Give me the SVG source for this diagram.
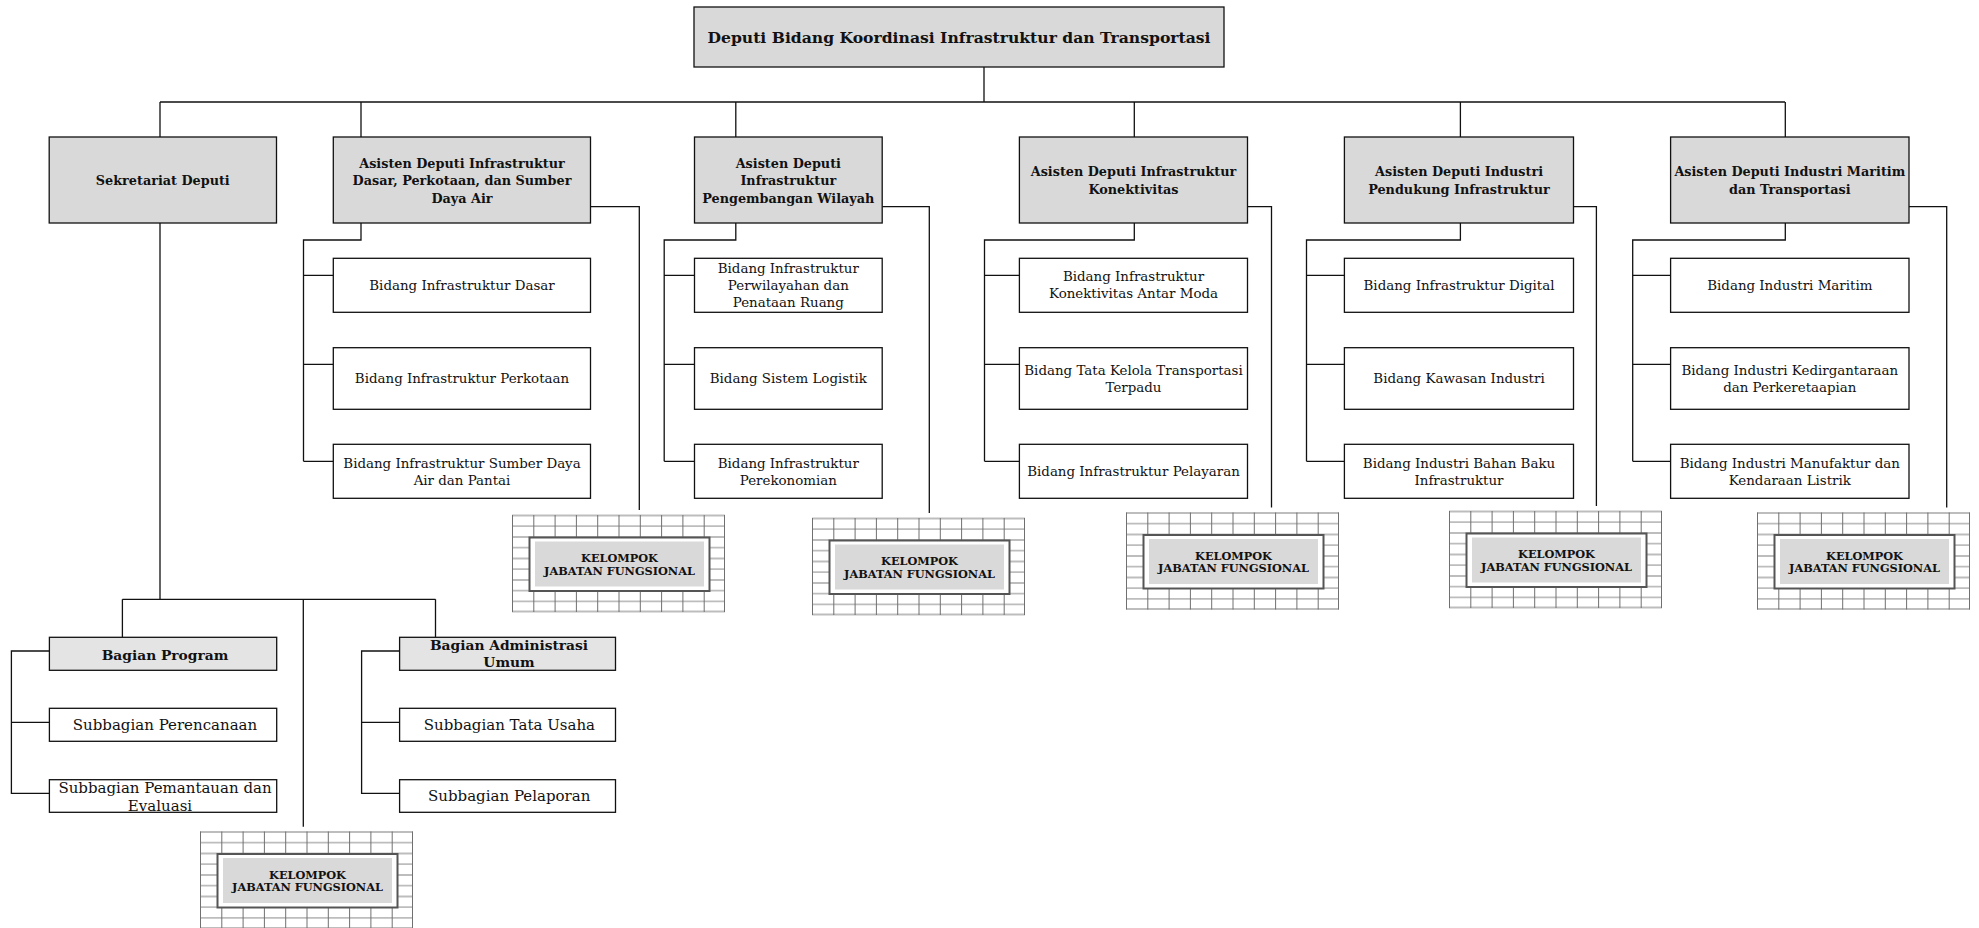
<svg xmlns="http://www.w3.org/2000/svg" xmlns:xlink="http://www.w3.org/1999/xlink" width="1979" height="928" viewBox="0 0 1979 928">
<style>
.hdr{fill:#d9d9d9;stroke:#111;stroke-width:1.3}
.bag{fill:#e4e4e4;stroke:#111;stroke-width:1.3}
.box{fill:#fff;stroke:#111;stroke-width:1.3}
.ln{fill:none;stroke:#111;stroke-width:1.3}
text{fill:#111;text-anchor:middle}
.t{font-family:"DejaVu Serif",serif;font-weight:bold;font-size:15.6px}
.h{font-family:"DejaVu Serif",serif;font-weight:bold;font-size:12.8px}
.r{font-family:"DejaVu Serif",serif;font-size:13.4px}
.b{font-family:"DejaVu Serif",serif;font-weight:bold;font-size:13.8px}
.s{font-family:"DejaVu Serif",serif;font-size:15px}
.k{font-family:"DejaVu Serif",serif;font-weight:bold;font-size:11.3px}
.gv{stroke:#707070;stroke-width:1}
.gh{stroke:#bdbdbd;stroke-width:1.8}
.kin{fill:#fff;stroke:#555;stroke-width:2}
.kg{fill:#d9d9d9}
</style>
<defs>
<g id="kjf">
<g class="gh">
<line x1="0" y1="0.5" x2="213" y2="0.5"/>
<line x1="0" y1="11.2" x2="213" y2="11.2"/>
<line x1="0" y1="22" x2="213" y2="22"/>
<line x1="0" y1="32.7" x2="213" y2="32.7"/>
<line x1="0" y1="43.5" x2="213" y2="43.5"/>
<line x1="0" y1="54.2" x2="213" y2="54.2"/>
<line x1="0" y1="65" x2="213" y2="65"/>
<line x1="0" y1="75.7" x2="213" y2="75.7"/>
<line x1="0" y1="86.4" x2="213" y2="86.4"/>
<line x1="0" y1="96.5" x2="213" y2="96.5"/>
</g>
<g class="gv">
<line x1="0.5" y1="0" x2="0.5" y2="97"/>
<line x1="21.8" y1="0" x2="21.8" y2="97"/>
<line x1="43.1" y1="0" x2="43.1" y2="97"/>
<line x1="64.4" y1="0" x2="64.4" y2="97"/>
<line x1="85.7" y1="0" x2="85.7" y2="97"/>
<line x1="107" y1="0" x2="107" y2="97"/>
<line x1="128.3" y1="0" x2="128.3" y2="97"/>
<line x1="149.6" y1="0" x2="149.6" y2="97"/>
<line x1="170.9" y1="0" x2="170.9" y2="97"/>
<line x1="192.2" y1="0" x2="192.2" y2="97"/>
<line x1="212.5" y1="0" x2="212.5" y2="97"/>
</g>
<rect class="kin" x="17.5" y="22.5" width="180" height="53.5"/>
<rect class="kg" x="23" y="26.5" width="169" height="45"/>
<text class="k" x="107.5" y="47">KELOMPOK</text>
<text class="k" x="107.5" y="59.8">JABATAN FUNGSIONAL</text>
</g>
</defs>

<g id="connectors">
<path class="ln" d="M984 67V102M160 102H1785M160 102V137M361 102V137M735.8 102V137M1134.3 102V137M1460.4 102V137M1785.3 102V137"/>
<path class="ln" d="M361 223V240H303.5V461.3M303.5 275.3H333.3M303.5 364.3H333.3M303.5 461.3H333.3"/>
<path class="ln" d="M735.8 223V240H664.2V461.3M664.2 275.3H694.5M664.2 364.3H694.5M664.2 461.3H694.5"/>
<path class="ln" d="M1134.3 223V240H984.5V461.3M984.5 275.3H1019.4M984.5 364.3H1019.4M984.5 461.3H1019.4"/>
<path class="ln" d="M1460.4 223V240H1306.5V461.3M1306.5 275.3H1344.4M1306.5 364.3H1344.4M1306.5 461.3H1344.4"/>
<path class="ln" d="M1785.3 223V240H1632.7V461.3M1632.7 275.3H1670.6M1632.7 364.3H1670.6M1632.7 461.3H1670.6"/>
<path class="ln" d="M590.5 206.7H639.3V510M882.2 206.7H929.3V513M1247.5 206.7H1271.5V507.5M1573.5 206.7H1596.4V506M1909 206.7H1946.7V507.5"/>
<path class="ln" d="M160 223V599.3M122.4 599.3H435.5M122.4 599.3V637.3M435.5 599.3V637.3M303.3 599.3V826.7"/>
<path class="ln" d="M49.4 651H11.4V793.3H49.4M11.4 722.3H49.4"/>
<path class="ln" d="M399.6 651H361.6V793.3H399.6M361.6 722.3H399.6"/>
</g>

<g id="deputi">
<rect class="hdr" x="694" y="7" width="530" height="60"/>
<text class="t" x="959" y="42.6">Deputi Bidang Koordinasi Infrastruktur dan Transportasi</text>
</g>

<g id="sekretariat">
<rect class="hdr" x="49.2" y="137" width="227.3" height="86"/>
<text class="h" x="162.8" y="185.2">Sekretariat Deputi</text>
</g>

<g id="asdep-dasar">
<rect class="hdr" x="333.3" y="137" width="257.2" height="86"/>
<text class="h" x="462" y="167.8">Asisten Deputi Infrastruktur</text>
<text class="h" x="462" y="185.2">Dasar, Perkotaan, dan Sumber</text>
<text class="h" x="462" y="202.5">Daya Air</text>
</g>
<g id="dasar-1">
<rect class="box" x="333.3" y="258.3" width="257.2" height="54"/>
<text class="r" x="462" y="290.2">Bidang Infrastruktur Dasar</text>
</g>
<g id="dasar-2">
<rect class="box" x="333.3" y="347.7" width="257.2" height="61.6"/>
<text class="r" x="462" y="383.4">Bidang Infrastruktur Perkotaan</text>
</g>
<g id="dasar-3">
<rect class="box" x="333.3" y="444.3" width="257.2" height="54"/>
<text class="r" x="462" y="467.7">Bidang Infrastruktur Sumber Daya</text>
<text class="r" x="462" y="484.7">Air dan Pantai</text>
</g>

<g id="asdep-wilayah">
<rect class="hdr" x="694.5" y="137" width="187.7" height="86"/>
<text class="h" x="788.3" y="167.8">Asisten Deputi</text>
<text class="h" x="788.3" y="185.2">Infrastruktur</text>
<text class="h" x="788.3" y="202.5">Pengembangan Wilayah</text>
</g>
<g id="wilayah-1">
<rect class="box" x="694.5" y="258.3" width="187.7" height="54"/>
<text class="r" x="788.3" y="273.2">Bidang Infrastruktur</text>
<text class="r" x="788.3" y="290.2">Perwilayahan dan</text>
<text class="r" x="788.3" y="307.2">Penataan Ruang</text>
</g>
<g id="wilayah-2">
<rect class="box" x="694.5" y="347.7" width="187.7" height="61.6"/>
<text class="r" x="788.3" y="383.4">Bidang Sistem Logistik</text>
</g>
<g id="wilayah-3">
<rect class="box" x="694.5" y="444.3" width="187.7" height="54"/>
<text class="r" x="788.3" y="467.7">Bidang Infrastruktur</text>
<text class="r" x="788.3" y="484.7">Perekonomian</text>
</g>

<g id="asdep-konektivitas">
<rect class="hdr" x="1019.4" y="137" width="228.1" height="86"/>
<text class="h" x="1133.5" y="176.2">Asisten Deputi Infrastruktur</text>
<text class="h" x="1133.5" y="193.5">Konektivitas</text>
</g>
<g id="konektivitas-1">
<rect class="box" x="1019.4" y="258.3" width="228.1" height="54"/>
<text class="r" x="1133.5" y="281.2">Bidang Infrastruktur</text>
<text class="r" x="1133.5" y="298.2">Konektivitas Antar Moda</text>
</g>
<g id="konektivitas-2">
<rect class="box" x="1019.4" y="347.7" width="228.1" height="61.6"/>
<text class="r" x="1133.5" y="374.9">Bidang Tata Kelola Transportasi</text>
<text class="r" x="1133.5" y="391.9">Terpadu</text>
</g>
<g id="konektivitas-3">
<rect class="box" x="1019.4" y="444.3" width="228.1" height="54"/>
<text class="r" x="1133.5" y="476.2">Bidang Infrastruktur Pelayaran</text>
</g>

<g id="asdep-pendukung">
<rect class="hdr" x="1344.4" y="137" width="229.1" height="86"/>
<text class="h" x="1459" y="176.2">Asisten Deputi Industri</text>
<text class="h" x="1459" y="193.5">Pendukung Infrastruktur</text>
</g>
<g id="pendukung-1">
<rect class="box" x="1344.4" y="258.3" width="229.1" height="54"/>
<text class="r" x="1459" y="290.2">Bidang Infrastruktur Digital</text>
</g>
<g id="pendukung-2">
<rect class="box" x="1344.4" y="347.7" width="229.1" height="61.6"/>
<text class="r" x="1459" y="383.4">Bidang Kawasan Industri</text>
</g>
<g id="pendukung-3">
<rect class="box" x="1344.4" y="444.3" width="229.1" height="54"/>
<text class="r" x="1459" y="467.7">Bidang Industri Bahan Baku</text>
<text class="r" x="1459" y="484.7">Infrastruktur</text>
</g>

<g id="asdep-maritim">
<rect class="hdr" x="1670.6" y="137" width="238.4" height="86"/>
<text class="h" x="1789.8" y="176.2">Asisten Deputi Industri Maritim</text>
<text class="h" x="1789.8" y="193.5">dan Transportasi</text>
</g>
<g id="maritim-1">
<rect class="box" x="1670.6" y="258.3" width="238.4" height="54"/>
<text class="r" x="1789.8" y="290.2">Bidang Industri Maritim</text>
</g>
<g id="maritim-2">
<rect class="box" x="1670.6" y="347.7" width="238.4" height="61.6"/>
<text class="r" x="1789.8" y="374.9">Bidang Industri Kedirgantaraan</text>
<text class="r" x="1789.8" y="391.9">dan Perkeretaapian</text>
</g>
<g id="maritim-3">
<rect class="box" x="1670.6" y="444.3" width="238.4" height="54"/>
<text class="r" x="1789.8" y="467.7">Bidang Industri Manufaktur dan</text>
<text class="r" x="1789.8" y="484.7">Kendaraan Listrik</text>
</g>

<g id="kjf-dasar"><use xlink:href="#kjf" href="#kjf" transform="translate(512 515)"/></g>
<g id="kjf-wilayah"><use xlink:href="#kjf" href="#kjf" transform="translate(812 518)"/></g>
<g id="kjf-konektivitas"><use xlink:href="#kjf" href="#kjf" transform="translate(1126 512.5)"/></g>
<g id="kjf-pendukung"><use xlink:href="#kjf" href="#kjf" transform="translate(1449 511)"/></g>
<g id="kjf-maritim"><use xlink:href="#kjf" href="#kjf" transform="translate(1757 512.5)"/></g>
<g id="kjf-sekretariat"><use xlink:href="#kjf" href="#kjf" transform="translate(200 831.5)"/></g>

<g id="bagian-program">
<rect class="bag" x="49.4" y="637.3" width="227.3" height="33"/>
<text class="b" x="165" y="660">Bagian Program</text>
</g>
<g id="sub-perencanaan">
<rect class="box" x="49.4" y="708.3" width="227.3" height="33"/>
<text class="s" x="165" y="730.4">Subbagian Perencanaan</text>
</g>
<g id="sub-pemantauan">
<rect class="box" x="49.4" y="779.7" width="227.3" height="32.6"/>
<text class="s" x="165" y="793.4">Subbagian Pemantauan dan</text>
<text class="s" x="160" y="811.4">Evaluasi</text>
</g>
<g id="bagian-admin">
<rect class="bag" x="399.6" y="637.3" width="215.9" height="33"/>
<text class="b" x="509" y="650">Bagian Administrasi</text>
<text class="b" x="509" y="667.3">Umum</text>
</g>
<g id="sub-tatausaha">
<rect class="box" x="399.6" y="708.3" width="215.9" height="33"/>
<text class="s" x="509.4" y="730.4">Subbagian Tata Usaha</text>
</g>
<g id="sub-pelaporan">
<rect class="box" x="399.6" y="779.7" width="215.9" height="32.6"/>
<text class="s" x="509.2" y="801.4">Subbagian Pelaporan</text>
</g>
</svg>
